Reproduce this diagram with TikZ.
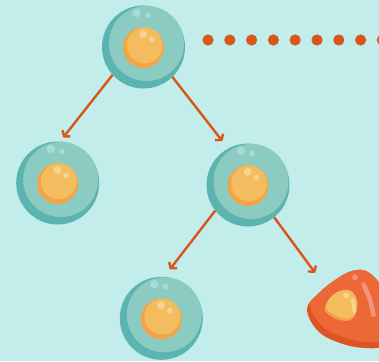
\documentclass[tikz,border=0pt]{standalone}
\usetikzlibrary{arrows.meta,calc}

\definecolor{bgcol}{HTML}{C2EDEB}
\definecolor{celldark}{HTML}{5BB4AF}
\definecolor{celllight}{HTML}{8BCBC2}
\definecolor{cellshine}{HTML}{A7DBD4}
\definecolor{yolkdark}{HTML}{F1A545}
\definecolor{yolklight}{HTML}{F2BC5F}
\definecolor{yolkshine}{HTML}{F7D291}
\definecolor{arrowcol}{HTML}{D9561A}
\definecolor{blobmain}{HTML}{EC6837}
\definecolor{blobdark}{HTML}{DE5424}
\definecolor{blobshine}{HTML}{F4937A}

\tikzset{
  cellspot/.style={circle, minimum size=83pt, inner sep=0pt, outer sep=0pt},
  splitarrow/.style={arrowcol, line width=2.4pt, line join=round,
    -{Straight Barb[length=4pt,width=10pt,line join=round]}},
  dotmark/.style={fill=arrowcol},
  pics/cell/.style={code={
    \fill[celldark] (0,0) circle[radius=41.5pt];
    \fill[celllight] (3pt,3.5pt) circle[radius=37.5pt];
    \fill[cellshine] (-7pt,34pt) circle[radius=4.2pt];
    \fill[cellshine] (4.2pt,31.5pt) circle[radius=2.9pt];
    \fill[yolkdark] (0pt,-0.5pt) circle[radius=20.5pt];
    \fill[yolklight] (1.2pt,1.7pt) circle[radius=18pt];
    \fill[yolkshine] (-0.3pt,13pt) circle[radius=4pt];
    \fill[yolkshine] (8.4pt,7.5pt) circle[radius=2.9pt];
  }}
}

\begin{document}
\begin{tikzpicture}[x=1pt,y=-1pt]
  \useasboundingbox (0,0) rectangle (379,361);
  \fill[bgcol] (0,0) rectangle (379,361);

  % cell positions
  \node[cellspot] (top) at (143.5,47) {};
  \node[cellspot] (left) at (57.7,183) {};
  \node[cellspot] (right) at (248,185) {};
  \node[cellspot] (bottom) at (161.3,318.3) {};
  \coordinate (blob) at (345,310);

  % row of dots
  \foreach \i in {0,...,8}
    \fill[dotmark] (208+21.8*\i,40) circle[radius=5.6pt];

  % division arrows
  \draw[splitarrow] (top.222) -- ($(left)+(83:46pt)$);
  \draw[splitarrow] (top.314) -- ($(right)+(120.3:51pt)$);
  \draw[splitarrow] (right.218) -- ($(bottom)+(80:49.8pt)$);
  \draw[splitarrow] (right.309) -- ($(blob)+(128.8:47.9pt)$);

  % cells
  \foreach \c in {top,left,right,bottom}
    \pic at (\c) {cell};

  % deformed cell
  \def\blobpath{plot[smooth cycle, tension=0.65] coordinates {
    (307,309) (319,293) (335,280) (352,271) (368,272) (383,290)
    (392,325) (385,345) (365,348) (340,343) (318,331)}}
  \fill[blobdark] \blobpath;
  \begin{scope}
    \clip \blobpath;
    \fill[blobmain, shift={(3,-6)}] \blobpath;
  \end{scope}
  \draw[blobshine, line width=4.6pt, line cap=round]
    (363.5,284.5) to[bend left=8] (373.5,315);
  \fill[blobshine] (355,277.3) circle[radius=2.8pt];

  % its nucleus
  \def\yolkpath{plot[smooth cycle, tension=0.7] coordinates {
    (325,307) (333,295) (345,290) (354,294) (357,306) (352,319)
    (340,320) (328,314)}}
  \fill[yolkdark] \yolkpath;
  \begin{scope}
    \clip \yolkpath;
    \fill[yolklight, shift={(1.5,-2.5)}] \yolkpath;
  \end{scope}
  \fill[yolkshine] (346,295.5) circle[radius=3pt];
  \draw[yolkshine, line width=4pt, line cap=round] (352.5,300) -- (354.5,311);
\end{tikzpicture}
\end{document}
